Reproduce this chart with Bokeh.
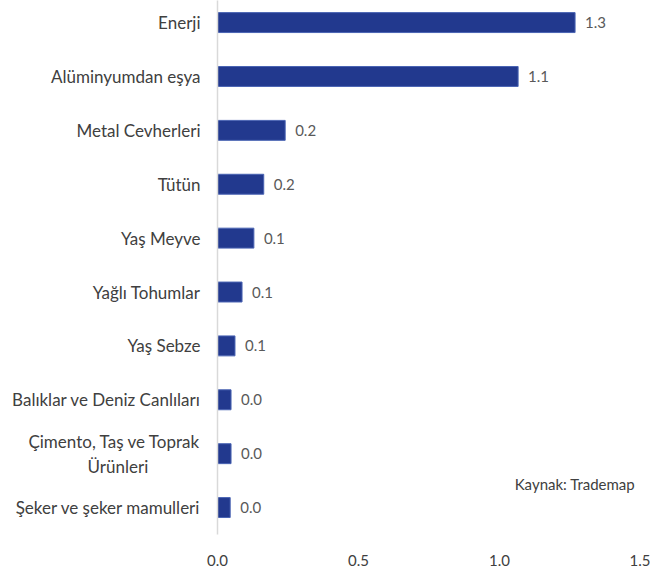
from bokeh.plotting import figure
from bokeh.models import ColumnDataSource, Range1d, FixedTicker, Label, LabelSet, NumeralTickFormatter
from bokeh.core.properties import value
from bokeh.embed import file_html
from bokeh.resources import INLINE

NB = "\u00a0"
categories = ["Enerji", "Alüminyumdan eşya", "Metal Cevherleri", "Tütün", "Yaş Meyve",
              "Yağlı Tohumlar", "Yaş Sebze", "Balıklar ve Deniz Canlıları",
              "Çimento, Taş ve Toprak\nÜrünleri" + NB * 12, "Şeker ve şeker mamulleri"]
values = [1.268, 1.066, 0.240, 0.164, 0.129, 0.087, 0.062, 0.048, 0.048, 0.045]
x_ticks = [0.0, 0.5, 1.0, 1.5]
source_note = "Kaynak: Trademap"

n = len(categories)
ypos = [n - 1 - i for i in range(n)]
labels = ["%.1f" % v for v in values]
src = ColumnDataSource(dict(y=ypos, v=values, lab=labels))

FONT = "Lato"
TEXT = "#404040"

p = figure(width=650, height=570, output_backend="svg", toolbar_location=None,
           x_range=Range1d(0, 1.5), y_range=Range1d(-0.5, 9.41),
           min_border_left=217, min_border_right=10, min_border_top=0, min_border_bottom=36)
p.outline_line_color = None
p.xgrid.visible = False
p.ygrid.visible = False

p.hbar(y="y", right="v", left=0, height=0.37, source=src,
       fill_color="#22398E", line_color="#4A64B3", line_width=1)

p.add_layout(LabelSet(x="v", y="y", text="lab", source=src, x_offset=10,
                      text_baseline="middle", text_font=value(FONT), text_font_size="15px",
                      text_color="#595959"))

p.xaxis.ticker = FixedTicker(ticks=x_ticks)
p.xaxis.formatter = NumeralTickFormatter(format="0.0")
p.xaxis.axis_line_color = None
p.xaxis.major_tick_line_color = None
p.xaxis.minor_tick_line_color = None
p.xaxis.major_label_standoff = 14
p.xaxis.major_label_text_font = FONT
p.xaxis.major_label_text_font_size = "15px"
p.xaxis.major_label_text_color = TEXT

p.yaxis.ticker = FixedTicker(ticks=ypos)
p.yaxis.major_label_overrides = {y: c for y, c in zip(ypos, categories)}
p.yaxis.axis_line_color = "#D9D9D9"
p.yaxis.axis_line_width = 1.5
p.yaxis.major_tick_line_color = None
p.yaxis.minor_tick_line_color = None
p.yaxis.major_label_standoff = 11
p.yaxis.major_label_text_font = FONT
p.yaxis.major_label_text_font_size = "17px"
p.yaxis.major_label_text_color = TEXT

p.add_layout(Label(x=1.054, y=0.43, text=source_note, text_font=FONT,
                   text_font_size="15px", text_color=TEXT, text_baseline="middle"))

open("out.html", "w").write(file_html(p, INLINE))
